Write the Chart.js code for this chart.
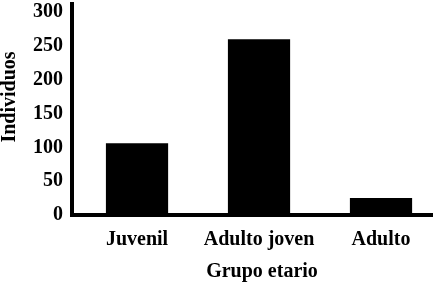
<!DOCTYPE html>
<html>
<head>
<meta charset="utf-8">
<script src="https://cdn.jsdelivr.net/npm/chart.js@4.4.0/dist/chart.umd.min.js"></script>
<style>
  html, body { margin: 0; padding: 0; background: #fff; }
  #wrap { width: 434px; height: 283px; position: relative; }
</style>
</head>
<body>
<div id="wrap"><canvas id="c" width="434" height="283"></canvas></div>
<script>
const categories = ['Juvenil', 'Adulto joven', 'Adulto'];
const individuos = [106, 260, 25];
const yTicks = [0, 50, 100, 150, 200, 250, 300];
const xTitle = 'Grupo etario';
const yTitle = 'Individuos';

const FONT = "'Liberation Serif', 'Times New Roman', serif";
const NB = '\u00A0';

const points = individuos.map((v, i) => ({ x: i, y: v }));

new Chart(document.getElementById('c'), {
  type: 'bar',
  data: {
    datasets: [{
      data: points,
      backgroundColor: '#000',
      borderWidth: 0,
      barPercentage: 0.51,
      categoryPercentage: 1.0
    }]
  },
  options: {
    responsive: false,
    animation: false,
    devicePixelRatio: 1,
    layout: { padding: { top: 4, right: 2, left: 0, bottom: 0 } },
    plugins: { legend: { display: false }, tooltip: { enabled: false } },
    scales: {
      x: {
        type: 'linear',
        offset: false,
        min: -0.533,
        max: 2.418,
        grid: { display: false, drawTicks: false, offset: false },
        border: { display: true, color: '#000', width: 4 },
        afterBuildTicks: (s) => { s.ticks = categories.map((c, i) => ({ value: i })); },
        ticks: {
          autoSkip: false,
          maxRotation: 0,
          padding: 15,
          color: '#000',
          font: { family: FONT, size: 20, weight: 'bold', lineHeight: 1 },
          callback: (v) => categories[v] ?? ''
        },
        title: {
          display: true,
          text: NB.repeat(4) + xTitle,
          color: '#000',
          font: { family: FONT, size: 20, weight: 'bold', lineHeight: 1 },
          padding: { top: 0, bottom: 1 }
        },
        afterFit: (s) => { s.height = 68; s.paddingLeft = 0; s.paddingRight = 0; }
      },
      y: {
        min: 0,
        max: 312,
        grid: { display: false, drawTicks: false },
        border: { display: true, color: '#000', width: 4 },
        afterBuildTicks: (s) => { s.ticks = yTicks.map(v => ({ value: v })); },
        ticks: {
          padding: 9,
          color: '#000',
          font: { family: FONT, size: 20, weight: 'bold', lineHeight: 1 }
        },
        title: {
          display: true,
          text: NB.repeat(5) + yTitle,
          color: '#000',
          font: { family: FONT, size: 20, weight: 'bold', lineHeight: 1 },
          padding: { top: 0, bottom: 0 }
        },
        afterFit: (s) => { s.width = 72; s.paddingTop = 0; s.paddingBottom = 0; }
      }
    }
  }
});
</script>
</body>
</html>
